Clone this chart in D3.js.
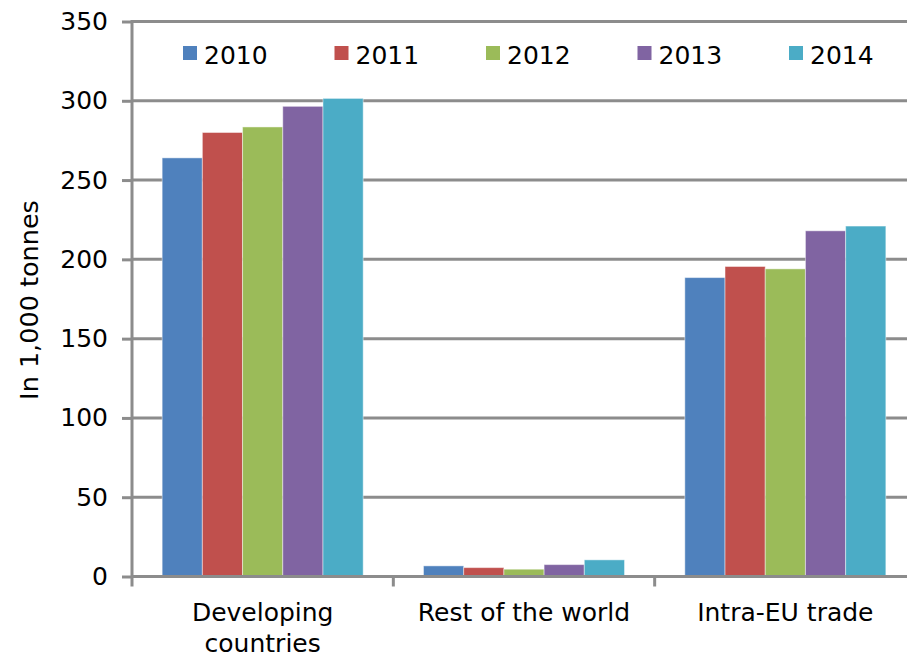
<!DOCTYPE html>
<html>
<head>
<meta charset="utf-8">
<script src="https://cdn.jsdelivr.net/npm/d3@7"></script>
<style>
  body { margin: 0; background: #fff; }
  svg { display: block; font-family: "DejaVu Sans", Verdana, sans-serif; }
</style>
</head>
<body>
<svg class="chart"></svg>
<script>
// Chart data.
var categories = ["Developing countries", "Rest of the world", "Intra-EU trade"];
var years = ["2010", "2011", "2012", "2013", "2014"];
var values2010 = [264, 6.7, 188.5];
var values2011 = [280, 5.6, 195.5];
var values2012 = [283.5, 4.6, 194];
var values2013 = [296.5, 7.5, 218];
var values2014 = [301.5, 10.5, 221];
var yTicks = [0, 50, 100, 150, 200, 250, 300, 350];
var colors = ["#4f81bd", "#c0504d", "#9bbb59", "#8064a2", "#4bacc6"];

var series = [values2010, values2011, values2012, values2013, values2014];

var width = 907, height = 657;
// Plot area edges, in pixels.  (Not "top": that name is taken by window.top.)
var plotLeft = 132, plotRight = 916, plotTop = 21.5, plotBottom = 576.5;
var gray = "#8c8c8c";

var svg = d3.select(".chart").attr("width", width).attr("height", height);

var x0 = d3.scaleBand().domain(categories).range([plotLeft, plotRight]);
var x1 = d3.scaleBand().domain(years).range([0, x0.bandwidth()]).paddingOuter(0.75);
var y = d3.scaleLinear().domain([0, 350]).range([plotBottom, plotTop]);

// Horizontal gridlines.
svg.selectAll("line.grid")
    .data(yTicks.slice(1))
    .enter().append("line")
    .attr("class", "grid")
    .attr("x1", plotLeft).attr("x2", width)
    .attr("y1", function(d) { return y(d); })
    .attr("y2", function(d) { return y(d); })
    .attr("stroke", gray).attr("stroke-width", 3);

// Bars, one group per category.
var group = svg.selectAll("g.cat")
    .data(categories)
    .enter().append("g")
    .attr("class", "cat")
    .attr("transform", function(c) { return "translate(" + x0(c) + ",0)"; });

group.selectAll("rect")
    .data(function(c, i) {
        return years.map(function(yr, j) { return {year: yr, value: series[j][i], color: colors[j]}; });
    })
    .enter().append("rect")
    .attr("x", function(d) { return x1(d.year); })
    .attr("width", x1.bandwidth())
    .attr("y", function(d) { return y(d.value); })
    .attr("height", function(d) { return plotBottom - y(d.value); })
    .attr("fill", function(d) { return d.color; })
    .attr("stroke", "#fff").attr("stroke-opacity", 0.45).attr("stroke-width", 1);

// Y axis.
var yAxis = svg.append("g")
    .attr("transform", "translate(" + plotLeft + ",0)")
    .call(d3.axisLeft(y).tickValues(yTicks).tickSize(10).tickPadding(14));
yAxis.select(".domain").remove();
yAxis.selectAll(".tick line").attr("stroke", gray).attr("stroke-width", 3);
yAxis.selectAll(".tick text").attr("fill", "#000").style("font-size", "25px")
    .style("font-family", "DejaVu Sans, Verdana, sans-serif");
yAxis.append("line")
    .attr("x1", 0).attr("x2", 0)
    .attr("y1", plotTop - 1.5).attr("y2", plotBottom + 10)
    .attr("stroke", gray).attr("stroke-width", 3);

// X axis baseline and category separators.
svg.append("line")
    .attr("x1", plotLeft).attr("x2", width)
    .attr("y1", plotBottom).attr("y2", plotBottom)
    .attr("stroke", gray).attr("stroke-width", 3);

svg.selectAll("line.sep")
    .data(categories.slice(1))
    .enter().append("line")
    .attr("class", "sep")
    .attr("x1", function(c) { return x0(c); })
    .attr("x2", function(c) { return x0(c); })
    .attr("y1", plotBottom).attr("y2", plotBottom + 10)
    .attr("stroke", gray).attr("stroke-width", 3);

// Category labels (first one wraps on two lines).
var labelLines = [["Developing", "countries"], ["Rest of the world"], ["Intra-EU trade"]];
svg.selectAll("text.cat")
    .data(categories)
    .enter().append("text")
    .attr("class", "cat")
    .attr("text-anchor", "middle")
    .style("font-size", "25px")
    .each(function(c, i) {
        var t = d3.select(this);
        labelLines[i].forEach(function(line, k) {
            t.append("tspan")
                .attr("x", x0(c) + x0.bandwidth() / 2)
                .attr("y", 621 + k * 31)
                .text(line);
        });
    });

// Y axis title.
svg.append("text")
    .attr("transform", "translate(38,300) rotate(-90)")
    .attr("text-anchor", "middle")
    .style("font-size", "25.5px")
    .text("In 1,000 tonnes");

// Legend.
var legend = svg.selectAll("g.legend")
    .data(years)
    .enter().append("g")
    .attr("class", "legend")
    .attr("transform", function(d, i) { return "translate(" + (183 + i * 151.5) + ",46)"; });

legend.append("rect")
    .attr("width", 14).attr("height", 14)
    .attr("fill", function(d, i) { return colors[i]; });

legend.append("text")
    .attr("x", 21).attr("y", 18)
    .style("font-size", "25px")
    .text(function(d) { return d; });
</script>
</body>
</html>
